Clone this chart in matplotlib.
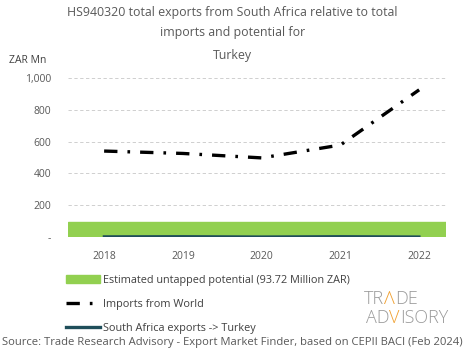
import matplotlib.pyplot as plt
from matplotlib.lines import Line2D
from matplotlib.patches import Patch

years = ['2018', '2019', '2020', '2021', '2022']
imports_world = [540, 525, 497, 578, 925]
sa_exports = [2, 3, 1, 3, 1]
untapped = 93.72
yticks = [0, 200, 400, 600, 800, 1000]
ytick_labels = ['-', '200', '400', '600', '800', '1,000']

plt.rcParams['font.family'] = ['Open Sans', 'DejaVu Sans']

fig = plt.figure(figsize=(4.65, 3.59), dpi=100)
ax = fig.add_axes([0.146, 0.340, 0.813, 0.443])

x = list(range(len(years)))
ax.axhspan(0, untapped, color='#92d050', zorder=1)
ax.plot(x, imports_world, color='black', lw=2.4, linestyle=(0, (4, 3, 0.8, 3)), zorder=3)
ax.plot(x, sa_exports, color='#1f4e5a', lw=2, zorder=2)

ax.set_xlim(-0.46, 4.34)
ax.set_ylim(0, 1000)
ax.set_xticks(x)
ax.set_xticklabels(years)
ax.set_yticks(yticks)
ax.set_yticklabels(ytick_labels)
ax.tick_params(length=0, colors='#595959', labelsize=7.5)
ax.tick_params(axis='x', pad=10)
ax.tick_params(axis='y', pad=12)
ax.grid(axis='y', color='#c8c8c8', linestyle=(0, (4, 3)), lw=0.6)
ax.set_axisbelow(True)
for s in ax.spines.values():
    s.set_visible(False)

title_kw = dict(ha='center', va='center', fontsize=8.9, color='#595959')
fig.text(0.5, 0.965, 'HS940320 total exports from South Africa relative to total', **title_kw)
fig.text(0.5, 0.91, 'imports and potential for', **title_kw)
fig.text(0.5, 0.845, 'Turkey', **title_kw)
fig.text(0.02, 0.832, 'ZAR Mn', ha='left', va='center', fontsize=7.5, color='#404040')

handles = [Patch(color='#92d050'),
           Line2D([], [], color='black', lw=2.4, linestyle=(0, (4, 3, 0.8, 3))),
           Line2D([], [], color='#1f4e5a', lw=2.4)]
labels = ['Estimated untapped potential (93.72 Million ZAR)',
          'Imports from World',
          'South Africa exports -> Turkey']
fig.legend(handles, labels, loc='upper left', bbox_to_anchor=(0.142, 0.234),
           frameon=False, fontsize=7.8, labelcolor='#404040', labelspacing=1.2,
           handlelength=3.1, handletextpad=0.35, borderaxespad=0, borderpad=0)

# logo: grey words with orange chevrons
renderer = fig.canvas.get_renderer()


def logo_word(parts, x0, y0, size):
    xpos = x0
    for txt, col in parts:
        t = fig.text(xpos, y0, txt, ha='left', va='center', fontsize=size,
                     color=col, fontweight='light')
        bb = t.get_window_extent(renderer=renderer)
        xpos += bb.width / fig.bbox.width


logo_word([('TR', '#9a9a9a'), ('Λ', '#f0a030'), ('DE', '#9a9a9a')], 0.783, 0.167, 13)
logo_word([('AD', '#9a9a9a'), ('V', '#f0a030'), ('ISORY', '#9a9a9a')], 0.787, 0.113, 13)

fig.text(0.004, 0.045, 'Source: Trade Research Advisory - Export Market Finder, based on CEPII BACI (Feb 2024)',
         ha='left', va='center', fontsize=8.1, color='#595959')

fig.savefig('out.png', dpi=100)
